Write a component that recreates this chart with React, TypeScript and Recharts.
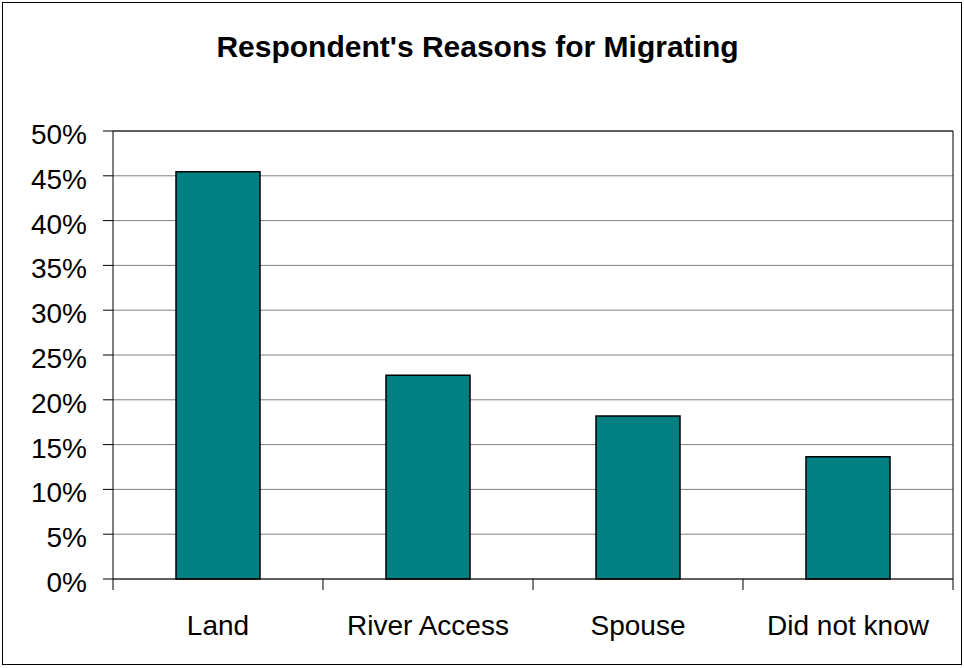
import { BarChart, Bar, XAxis, YAxis, CartesianGrid, ReferenceLine } from "recharts";

const CHART_WIDTH = 964;
const CHART_HEIGHT = 668;

// categories and shares (percent)
const categories = ["Land", "River Access", "Spouse", "Did not know"];
const shares = [45.45, 22.73, 18.18, 13.64];
const yTicks = [0, 5, 10, 15, 20, 25, 30, 35, 40, 45, 50];

const data = categories.map((name, i) => ({ name, value: shares[i] }));

const FONT = "'Liberation Sans', Arial, sans-serif";

// category label plus tick marks on the band edges (Excel style)
function CategoryTick(props: any) {
  const { x, y, payload, index } = props;
  const half = payload.offset || 0;
  const isLast = index === categories.length - 1;
  return (
    <g>
      <line x1={x - half} x2={x - half} y1={y - 36} y2={y - 25} stroke="#000" />
      {isLast && <line x1={x + half} x2={x + half} y1={y - 36} y2={y - 25} stroke="#000" />}
      <text x={x} y={y} dy={20} textAnchor="middle" fontSize={28} fill="#000" fontFamily={FONT}>
        {payload.value}
      </text>
    </g>
  );
}

export default function App() {
  return (
    <div style={{ position: "relative", width: CHART_WIDTH, height: CHART_HEIGHT, fontFamily: FONT }}>
      <style>{"body{margin:0}"}</style>
      <div
        style={{
          position: "absolute",
          left: 2,
          top: 2,
          width: 958,
          height: 661,
          border: "1px solid #000",
        }}
      />
      <div
        style={{
          position: "absolute",
          left: 0,
          top: 32,
          width: 955,
          textAlign: "center",
          fontSize: 30,
          lineHeight: "30px",
          fontWeight: "bold",
          color: "#000",
        }}
      >
        Respondent's Reasons for Migrating
      </div>
      <div style={{ position: "absolute", left: 0, top: 0 }}>
        <BarChart
          width={CHART_WIDTH}
          height={CHART_HEIGHT}
          data={data}
          margin={{ top: 131, right: 11, left: 10, bottom: 0 }}
          barCategoryGap="30%"
        >
          <CartesianGrid vertical={false} stroke="#808080" />
          <XAxis
            dataKey="name"
            height={89}
            tickLine={false}
            tickSize={11}
            tickMargin={25}
            stroke="#000"
            tick={<CategoryTick />}
            interval={0}
          />
          <YAxis
            domain={[0, 50]}
            ticks={yTicks}
            width={103}
            tickSize={10}
            tickMargin={16}
            stroke="#000"
            tickFormatter={(v: number) => `${v}%`}
            tick={{ fontSize: 28, fill: "#000", fontFamily: FONT, dy: 3 }}
          />
          <ReferenceLine y={50} stroke="#000" />
          <ReferenceLine x="Did not know" position="end" stroke="#000" />
          <Bar
            dataKey="value"
            fill="#008080"
            stroke="#000"
            strokeWidth={1.5}
            isAnimationActive={false}
          />
        </BarChart>
      </div>
    </div>
  );
}
